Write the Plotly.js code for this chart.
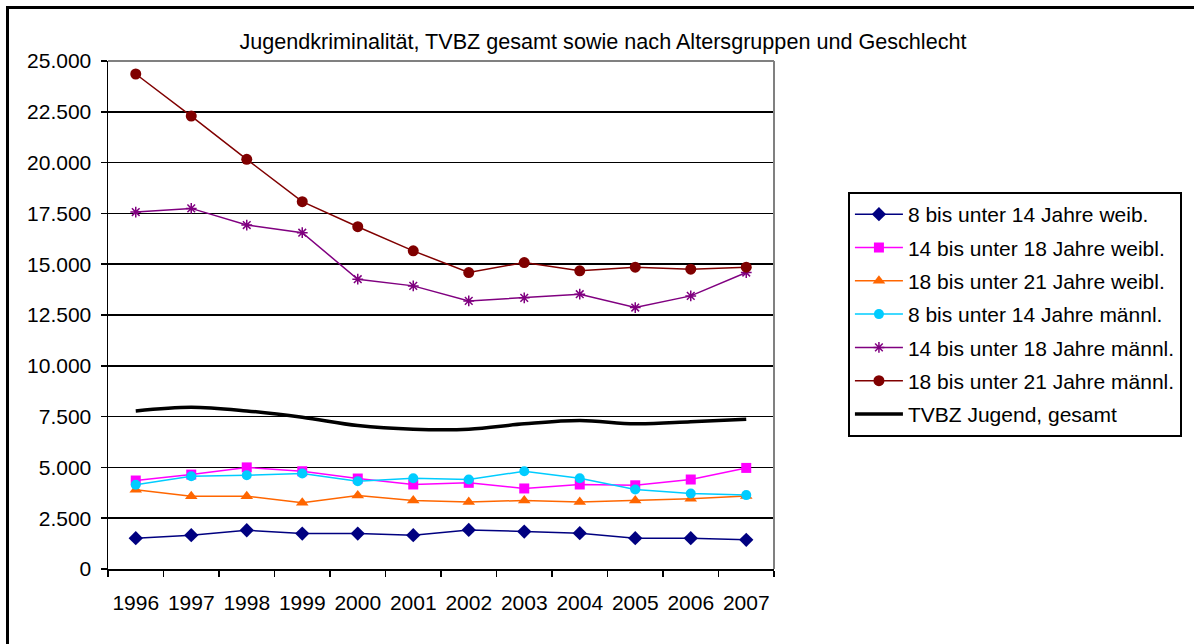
<!DOCTYPE html>
<html>
<head>
<meta charset="utf-8">
<script src="https://cdn.plot.ly/plotly-3.0.1.min.js"></script>
<style>
html,body{margin:0;padding:0;background:#fff;}
#wrap{position:relative;width:1194px;height:644px;overflow:hidden;}
#chart{position:absolute;left:0;top:0;width:1194px;height:644px;}
#frame{position:absolute;left:6px;top:6px;width:1200px;height:700px;border-left:3px solid #000;border-top:3px solid #000;pointer-events:none;}
</style>
</head>
<body>
<div id="wrap"><div id="chart"></div><div id="frame"></div></div>
<script>
const years = ["1996","1997","1998","1999","2000","2001","2002","2003","2004","2005","2006","2007"];
const names = [
  "8 bis unter 14 Jahre weib.",
  "14 bis unter 18 Jahre weibl.",
  "18 bis unter 21 Jahre weibl.",
  "8 bis unter 14 Jahre männl.",
  "14 bis unter 18 Jahre männl.",
  "18 bis unter 21 Jahre männl.",
  "TVBZ Jugend, gesamt"
];
const w8_14   = [1517, 1664, 1908, 1745, 1745, 1664, 1925, 1843, 1761, 1517, 1517, 1435];
const w14_18  = [4355, 4648, 5000, 4811, 4453, 4159, 4241, 3963, 4159, 4120, 4404, 4975];
const w18_21  = [3900, 3580, 3580, 3262, 3621, 3376, 3295, 3376, 3295, 3376, 3458, 3588];
const m8_14   = [4143, 4567, 4616, 4697, 4322, 4469, 4404, 4811, 4469, 3914, 3719, 3637];
const m14_18  = [17566, 17746, 16926, 16549, 14262, 13933, 13195, 13343, 13523, 12867, 13441, 14590];
const m18_21  = [24360, 22292, 20159, 18075, 16844, 15656, 14590, 15082, 14672, 14852, 14754, 14852];
const gesamt  = [7780, 7959, 7780, 7470, 7062, 6883, 6883, 7144, 7307, 7144, 7242, 7372];
const yTicks  = [0, 2500, 5000, 7500, 10000, 12500, 15000, 17500, 20000, 22500, 25000];
const yTickText = ["0","2.500","5.000","7.500","10.000","12.500","15.000","17.500","20.000","22.500","25.000"];

const series = [w8_14, w14_18, w18_21, m8_14, m14_18, m18_21, gesamt];
const colors = ["#000080","#FF00FF","#FF6600","#00CCFF","#800080","#800000","#000000"];
const symbols = ["diamond","square","triangle-up","circle","asterisk-open","circle",null];
const sizes = [11, 10, 11, 10, 9, 11, 0];

const traces = series.map((vals, i) => {
  const t = {
    type: "scatter",
    x: years,
    y: vals,
    name: names[i],
    legendgroup: "g" + i,
    line: {color: colors[i], width: i === 6 ? 3.5 : 1.5, shape: i === 6 ? "spline" : "linear"},
    hoverinfo: "x+y+name"
  };
  if (symbols[i]) {
    t.mode = "lines+markers";
    t.marker = {symbol: symbols[i], size: sizes[i], color: colors[i], line: {color: colors[i], width: symbols[i] === "asterisk-open" ? 1.5 : 0}};
  } else {
    t.mode = "lines";
  }
  return t;
});

const font = "Liberation Sans, Arial, sans-serif";
const layout = {
  width: 1194,
  height: 644,
  margin: {l: 108, r: 418, t: 61, b: 75},
  paper_bgcolor: "#ffffff",
  plot_bgcolor: "#ffffff",
  font: {family: font, color: "#000", size: 21},
  title: {
    text: "Jugendkriminalität, TVBZ gesamt sowie nach Altersgruppen und Geschlecht",
    font: {family: font, size: 21.6, color: "#000"},
    x: 0.505, xref: "container", xanchor: "center",
    y: 0.935, yref: "container", yanchor: "middle"
  },
  xaxis: {
    type: "category",
    range: [-0.5, 11.5],
    showgrid: false,
    showline: true,
    linecolor: "#000",
    linewidth: 1.5,
    ticks: "outside",
    tickson: "boundaries",
    ticklen: 6,
    tickcolor: "#000",
    tickwidth: 1.5,
    tickangle: 0,
    tickfont: {family: font, size: 21, color: "#000"},
    ticklabelstandoff: 14,
    zeroline: false
  },
  yaxis: {
    range: [0, 25000],
    tickvals: yTicks,
    ticktext: yTickText,
    showgrid: true,
    gridcolor: "#000",
    gridwidth: 1.5,
    showline: true,
    linecolor: "#000",
    linewidth: 1.5,
    ticks: "outside",
    ticklen: 6,
    tickcolor: "#000",
    tickwidth: 1.5,
    tickfont: {family: font, size: 21, color: "#000"},
    ticklabelstandoff: 5,
    zeroline: false
  },
  legend: {
    x: 1.111, xanchor: "left",
    y: 0.742, yanchor: "top",
    bordercolor: "#000",
    borderwidth: 2,
    bgcolor: "#fff",
    font: {family: font, size: 21, color: "#000"},
    traceorder: "grouped",
    tracegroupgap: 3,
    itemwidth: 48
  },
  shapes: [
    {type: "line", xref: "paper", yref: "paper", x0: 1, x1: 1, y0: 0, y1: 1, line: {color: "#808080", width: 2}},
    {type: "line", xref: "paper", yref: "paper", x0: 0, x1: 1, y0: 1, y1: 1, line: {color: "#808080", width: 2}}
  ],
  showlegend: true
};

Plotly.newPlot("chart", traces, layout, {displayModeBar: false, staticPlot: true});
</script>
</body>
</html>
